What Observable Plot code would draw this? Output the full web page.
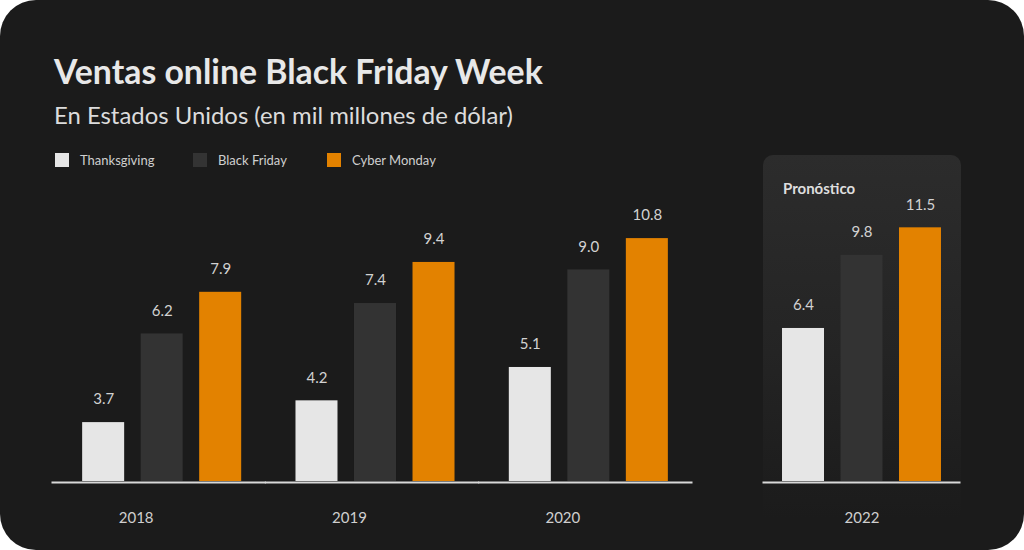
<!DOCTYPE html>
<html>
<head>
<meta charset="utf-8">
<script src="https://cdn.jsdelivr.net/npm/d3@7"></script>
<script src="https://cdn.jsdelivr.net/npm/@observablehq/plot@0.6"></script>
<style>
  html, body { margin: 0; padding: 0; background: #ffffff; }
  #card { position: relative; width: 1024px; height: 550px; background: #1b1b1b; border-radius: 36px; overflow: hidden; font-family: Lato, "Noto Sans", sans-serif; color: #e6e6e6; }
  #title { position: absolute; left: 54px; top: 52px; font-size: 33.8px; font-weight: 700; line-height: 38px; color: #e8e8e8; white-space: nowrap; }
  #subtitle { position: absolute; left: 54px; top: 101px; font-size: 23.9px; font-weight: 400; line-height: 28px; color: #dcdcdc; white-space: nowrap; }
  #legend { position: absolute; left: 55px; top: 151px; font-size: 13px; line-height: 18px; color: #cfcfcf; white-space: nowrap; }
  .item { position: absolute; top: 0; }
  .sw { position: absolute; top: 2px; left: 0; width: 14px; height: 14px; }
  .lab { position: absolute; left: 25px; top: 0; }
  #panel { position: absolute; left: 763px; top: 155px; width: 198px; height: 395px; border-radius: 10px 10px 0 0; background: linear-gradient(to bottom, #2c2c2c 0%, #242424 50%, #1b1b1b 92%); }
  #forecast { position: absolute; left: 783px; top: 179px; font-size: 15px; font-weight: 700; line-height: 18px; color: #dedede; }
  .plot { position: absolute; left: 0; top: 0; }
</style>
</head>
<body>
<div id="card">
  <div id="panel"></div>
  <div id="title">Ventas online Black Friday Week</div>
  <div id="subtitle">En Estados Unidos (en mil millones de dólar)</div>
  <div id="legend"></div>
  <div id="forecast">Pronóstico</div>
  <div id="left" class="plot"></div>
  <div id="right" class="plot"></div>
</div>
<script>
// ---- data ----
const pastYears = ["2018", "2019", "2020"];
const forecastYears = ["2022"];
const seriesNames = ["Thanksgiving", "Black Friday", "Cyber Monday"];
const thanksgiving = [3.7, 4.2, 5.1, 6.4];
const blackFriday = [6.2, 7.4, 9.0, 9.8];
const cyberMonday = [7.9, 9.4, 10.8, 11.5];
const seriesColors = ["#e6e6e6", "#333333", "#e38200"];

const allYears = pastYears.concat(forecastYears);
const seriesValues = [thanksgiving, blackFriday, cyberMonday];
const rows = [];
allYears.forEach((year, i) => {
  seriesNames.forEach((s, j) => rows.push({year, series: s, value: seriesValues[j][i]}));
});
const pastRows = rows.filter(d => pastYears.includes(d.year));
const forecastRows = rows.filter(d => forecastYears.includes(d.year));

// legend
const legend = document.getElementById("legend");
const legendX = [0, 138, 272];
seriesNames.forEach((s, j) => {
  const it = document.createElement("div");
  it.className = "item";
  it.style.left = legendX[j] + "px";
  it.innerHTML = `<div class="sw" style="background:${seriesColors[j]}"></div><div class="lab">${s}</div>`;
  legend.appendChild(it);
});

const yBase = 2.626;
const font = "Lato, 'Noto Sans', sans-serif";
const common = {
  height: 550,
  marginTop: 0,
  marginBottom: 69,
  y: {type: "log", domain: [yBase, 12], range: [481, 220], axis: null},
  color: {domain: seriesNames, range: seriesColors},
  style: {background: "transparent", overflow: "visible", fontFamily: font}
};

function marks(data, years, labelDx, ruleDx) {
  return [
    Plot.barY(data, {fx: "year", x: "series", y1: yBase, y2: "value", fill: "series"}),
    Plot.text(data, {fx: "year", x: "series", y: "value", text: d => d.value.toFixed(1), dy: -23, lineAnchor: "middle", fill: "#d2d2d2", fontSize: 15}),
    Plot.ruleY([yBase], {stroke: "#d9d9d9", strokeWidth: 2, dy: 1, dx: ruleDx, insetLeft: -0.5, insetRight: -0.5}),
    Plot.text(years, {fx: d => d, frameAnchor: "bottom", text: d => d, dy: 37, dx: labelDx, lineAnchor: "middle", fill: "#cfcfcf", fontSize: 15})
  ];
}

const left = Plot.plot({
  ...common,
  width: 720,
  marginLeft: 55,
  marginRight: 25,
  fx: {domain: pastYears, padding: 0, round: false, axis: null},
  x: {domain: seriesNames, paddingInner: 0.282, paddingOuter: 0.464, round: false, axis: null},
  marks: marks(pastRows, pastYears, -26, -3)
});
document.getElementById("left").appendChild(left);

const right = Plot.plot({
  ...common,
  width: 1024,
  marginLeft: 763,
  marginRight: 64,
  fx: {domain: forecastYears, padding: 0, round: false, axis: null},
  x: {domain: seriesNames, paddingInner: 0.282, paddingOuter: 0.325, round: false, axis: null},
  marks: marks(forecastRows, forecastYears, 0, 0)
});
document.getElementById("right").appendChild(right);
</script>
</body>
</html>
